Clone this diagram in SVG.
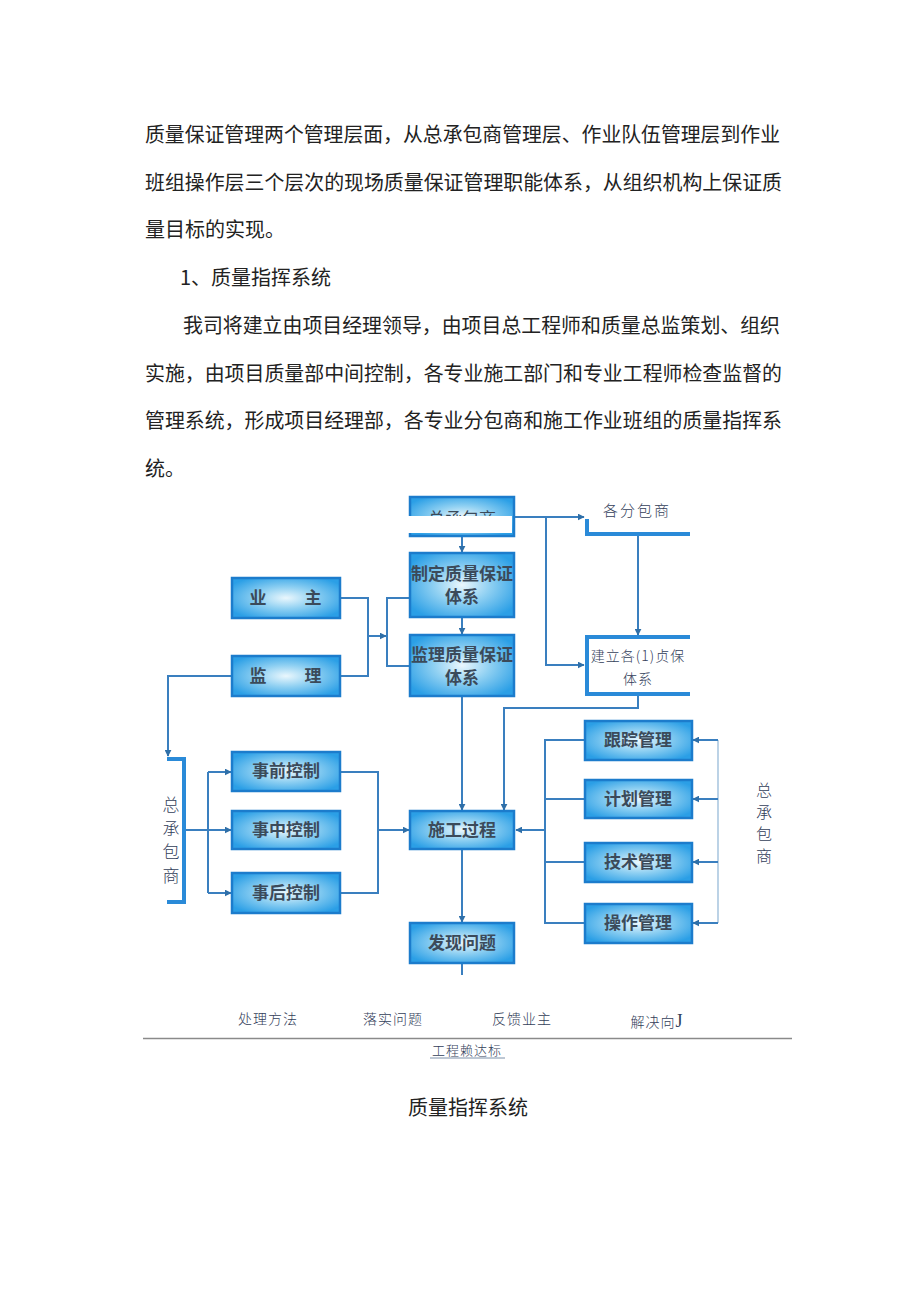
<svg xmlns="http://www.w3.org/2000/svg" width="920" height="1301" viewBox="0 0 920 1301">
<defs>
<radialGradient id="bg" cx="0.5" cy="0.5" r="0.6">
<stop offset="0" stop-color="#eaf7fd"/>
<stop offset="0.45" stop-color="#8fd0f2"/>
<stop offset="1" stop-color="#2b9fe6"/>
</radialGradient>
<marker id="ar" viewBox="0 0 10 10" refX="9" refY="5" markerWidth="7" markerHeight="7" markerUnits="userSpaceOnUse" orient="auto">
<path d="M0,0 L10,5 L0,10 z" fill="#2f6fa8"/>
</marker>
<style>
.body{font-family:"Noto Sans CJK SC","Noto Sans",sans-serif;font-size:20px;fill:#222;}
.box{fill:url(#bg);stroke:#1c7ccc;stroke-width:2.5;}
.bt{font-family:"Noto Sans CJK SC",sans-serif;font-size:17px;font-weight:bold;fill:#3b4a5a;text-anchor:middle;}
.lbl{font-family:"Noto Sans CJK SC",sans-serif;font-weight:300;fill:#33405a;}
.c{fill:none;stroke:#3a7fbf;stroke-width:2;}
.ca{fill:none;stroke:#3a7fbf;stroke-width:2;marker-end:url(#ar);}
.thin{fill:none;stroke:#8fb5d6;stroke-width:1.2;}
.br{fill:none;stroke:#2a8ad8;stroke-width:4;}
</style>
</defs>
<g id="body-text">
<text class="body" x="145" y="142" textLength="635" lengthAdjust="spacingAndGlyphs">质量保证管理两个管理层面，从总承包商管理层、作业队伍管理层到作业</text>
<text class="body" x="145" y="190" textLength="637" lengthAdjust="spacingAndGlyphs">班组操作层三个层次的现场质量保证管理职能体系，从组织机构上保证质</text>
<text class="body" x="145" y="237">量目标的实现。</text>
<text class="body" x="180" y="285">1、质量指挥系统</text>
<text class="body" x="183" y="333" textLength="597" lengthAdjust="spacingAndGlyphs">我司将建立由项目经理领导，由项目总工程师和质量总监策划、组织</text>
<text class="body" x="145" y="381" textLength="637" lengthAdjust="spacingAndGlyphs">实施，由项目质量部中间控制，各专业施工部门和专业工程师检查监督的</text>
<text class="body" x="145" y="428" textLength="637" lengthAdjust="spacingAndGlyphs">管理系统，形成项目经理部，各专业分包商和施工作业班组的质量指挥系</text>
<text class="body" x="145" y="476">统。</text>
</g>
<g id="connectors">
<path class="ca" d="M515,517 H584"/>
<path class="ca" d="M546,517 V665 H584"/>
<path class="ca" d="M462,537 V552"/>
<path class="ca" d="M462,618 V634"/>
<path class="ca" d="M638,536 V635"/>
<path class="c" d="M340,598 H368 V676 H340"/>
<path class="ca" d="M368,636 H386"/>
<path class="c" d="M410,598 H387 V666 H410"/>
<path class="ca" d="M232,676 H168 V756"/>
<path class="c" d="M208,772 V893"/>
<path class="ca" d="M208,772 H231"/>
<path class="ca" d="M185,830 H231"/>
<path class="ca" d="M208,893 H231"/>
<path class="c" d="M340,772 H378 V893 H340"/>
<path class="ca" d="M378,830 H409"/>
<path class="ca" d="M462,697 V810"/>
<path class="ca" d="M638,695 V708 H504 V810"/>
<path class="c" d="M585,740 H545 V923 H585"/>
<path class="c" d="M545,799 H585"/>
<path class="c" d="M545,862 H585"/>
<path class="ca" d="M545,830 H516"/>
<path class="thin" d="M718,740 V923"/>
<path class="ca" d="M718,740 H693"/>
<path class="ca" d="M718,799 H693"/>
<path class="ca" d="M718,862 H693"/>
<path class="ca" d="M718,923 H693"/>
<path class="ca" d="M462,849 V922"/>
<path class="c" d="M462,963 V975"/>
</g>
<g id="zongchengbao-top">
<rect class="box" x="410" y="497" width="104" height="39"/>
<text class="bt" x="462" y="525" style="font-weight:normal">总承包商</text>
<rect x="396" y="516" width="116" height="17" fill="#fff"/>
</g>
<g id="gefenbao">
<path class="br" d="M587,519 V534 H690"/>
<text class="lbl" x="637" y="516" font-size="15" text-anchor="middle" letter-spacing="2">各分包商</text>
</g>
<g id="zhiding">
<rect class="box" x="410" y="553" width="104" height="64"/>
<text class="bt" x="462" y="580">制定质量保证</text>
<text class="bt" x="462" y="603">体系</text>
</g>
<g id="jianli-tixi">
<rect class="box" x="410" y="635" width="104" height="61"/>
<text class="bt" x="462" y="661">监理质量保证</text>
<text class="bt" x="462" y="684">体系</text>
</g>
<g id="jianli-gebao">
<path class="br" d="M690,637 H587 V694 H690"/>
<text class="lbl" x="638" y="661" font-size="14" text-anchor="middle" letter-spacing="1">建立各(1)贞保</text>
<text class="lbl" x="638" y="684" font-size="14" text-anchor="middle" letter-spacing="1">体系</text>
</g>
<g id="yezhu">
<rect class="box" x="232" y="578" width="108" height="40"/>
<text class="bt" x="258" y="604">业</text>
<text class="bt" x="313" y="604">主</text>
</g>
<g id="jianli">
<rect class="box" x="232" y="656" width="108" height="40"/>
<text class="bt" x="258" y="682">监</text>
<text class="bt" x="313" y="682">理</text>
</g>
<g id="zongchengbao-left">
<path class="br" d="M167,759 H184 V902 H167"/>
<text class="lbl" font-size="17" text-anchor="middle" x="171"><tspan x="171" y="811">总</tspan><tspan x="171" y="834.5">承</tspan><tspan x="171" y="858">包</tspan><tspan x="171" y="881.5">商</tspan></text>
</g>
<g id="shiqian">
<rect class="box" x="232" y="752" width="108" height="39"/>
<text class="bt" x="286" y="777">事前控制</text>
</g>
<g id="shizhong">
<rect class="box" x="232" y="811" width="108" height="38"/>
<text class="bt" x="286" y="836">事中控制</text>
</g>
<g id="shihou">
<rect class="box" x="232" y="873" width="108" height="40"/>
<text class="bt" x="286" y="899">事后控制</text>
</g>
<g id="shigong">
<rect class="box" x="410" y="811" width="104" height="38"/>
<text class="bt" x="462" y="836">施工过程</text>
</g>
<g id="faxian">
<rect class="box" x="410" y="923" width="104" height="40"/>
<text class="bt" x="462" y="949">发现问题</text>
</g>
<g id="genzong">
<rect class="box" x="585" y="721" width="107" height="39"/>
<text class="bt" x="638" y="746">跟踪管理</text>
</g>
<g id="jihua">
<rect class="box" x="585" y="780" width="107" height="38"/>
<text class="bt" x="638" y="805">计划管理</text>
</g>
<g id="jishu">
<rect class="box" x="585" y="843" width="107" height="39"/>
<text class="bt" x="638" y="868">技术管理</text>
</g>
<g id="caozuo">
<rect class="box" x="585" y="904" width="107" height="39"/>
<text class="bt" x="638" y="929">操作管理</text>
</g>
<g id="zongchengbao-right">
<text class="lbl" font-size="16" text-anchor="middle" x="764"><tspan x="764" y="796">总</tspan><tspan x="764" y="818">承</tspan><tspan x="764" y="840">包</tspan><tspan x="764" y="862">商</tspan></text>
</g>
<g id="bottom-labels">
<text class="lbl" x="268" y="1024" font-size="14" text-anchor="middle" letter-spacing="1">处理方法</text>
<text class="lbl" x="393" y="1024" font-size="14" text-anchor="middle" letter-spacing="1">落实问题</text>
<text class="lbl" x="522" y="1024" font-size="14" text-anchor="middle" letter-spacing="1">反馈业主</text>
<text class="lbl" x="657" y="1027" font-size="14" text-anchor="middle" letter-spacing="1">解决向<tspan font-family="Liberation Serif,serif" font-size="18">J</tspan></text>
<line x1="143" y1="1038.5" x2="792" y2="1038.5" stroke="#8a8a8a" stroke-width="1.5"/>
<text class="lbl" x="467" y="1055" font-size="13" text-anchor="middle" letter-spacing="1">工程赖达标</text>
<line x1="430" y1="1058" x2="505" y2="1058" stroke="#7d90a8" stroke-width="1"/>
</g>
<g id="caption">
<text class="body" x="468" y="1115" text-anchor="middle">质量指挥系统</text>
</g>
</svg>
